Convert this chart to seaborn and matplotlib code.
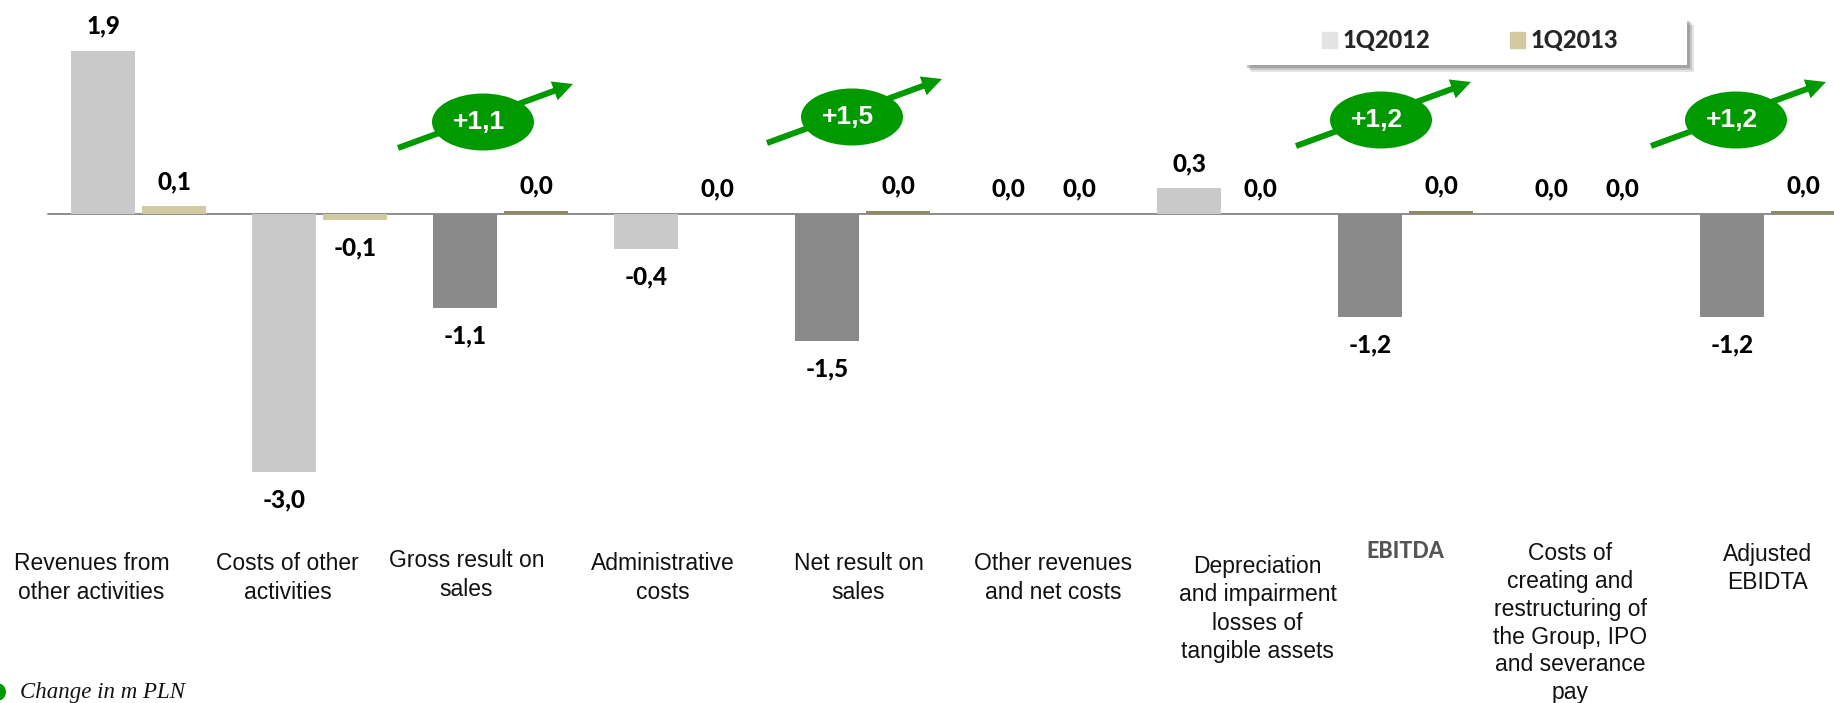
import matplotlib
matplotlib.use("Agg")
import matplotlib.pyplot as plt
from matplotlib.patches import Ellipse, FancyArrow, Rectangle, Patch
from matplotlib.transforms import Affine2D
import pandas as pd
import seaborn as sns

categories = [
    "Revenues from\nother activities", "Costs of other\nactivities", "Gross result on\nsales",
    "Administrative\ncosts", "Net result on\nsales", "Other revenues\nand net costs",
    "Depreciation\nand impairment\nlosses of\ntangible assets", "EBITDA",
    "Costs of\ncreating and\nrestructuring of\nthe Group, IPO\nand severance\npay", "Adjusted\nEBIDTA",
]
values_2012 = [1.9, -3.0, -1.09, -0.41, -1.48, 0.0, 0.3, -1.2, 0.0, -1.2]
values_2013 = [0.09, -0.07, 0.04, 0.0, 0.04, 0.0, 0.0, 0.04, 0.0, 0.04]
periods = ["1Q2012", "1Q2013"]
result_groups = [2, 4, 7, 9]
changes = ["+1,1", "+1,5", "+1,2", "+1,2"]

W, H = 1834, 703
GREEN = "#009900"
sns.set_theme(style="white")
plt.rcParams["font.family"] = ["Liberation Sans", "DejaVu Sans"]

df = pd.DataFrame({
    "category": categories * 2,
    "value": values_2012 + values_2013,
    "period": [periods[0]] * 10 + [periods[1]] * 10,
})

fig = plt.figure(figsize=(W / 100, H / 100), dpi=100, facecolor="white")
bottom_px = 530
ax = fig.add_axes([0, 1 - bottom_px / H, 1, bottom_px / H])
sns.barplot(data=df, x="category", y="value", hue="period", hue_order=periods,
            palette=["#c9c9c9", "#d1caa0"], width=0.784, gap=0.09, legend=False, ax=ax,
            errorbar=None, saturation=1, zorder=4, linewidth=0, edgecolor="none")
for i in result_groups:
    ax.containers[0][i].set_facecolor("#8a8a8a")
    ax.containers[1][i].set_facecolor("#8f8964")

px_per_unit = 86.0
ax.set_xlim((0 - 138.5) / 181, (W - 138.5) / 181)
ax.set_ylim((214 - bottom_px) / px_per_unit, 214 / px_per_unit)
ax.axhline(0, xmin=48 / W, color="#8c8c8c", lw=1.4, zorder=1)
for c, vals in zip(ax.containers, (values_2012, values_2013)):
    texts = ax.bar_label(c, labels=[f"{v:.1f}".replace(".", ",") for v in vals], padding=9.5,
                         family="Lato", fontweight=900, fontsize=17.5, color="black")
    for t, v in zip(texts, vals):
        if v < 0:
            t.xyann = (t.xyann[0], t.xyann[1] - 2.2)

ax.set_xlabel("")
ax.set_ylabel("")
ax.set_yticks([])
sns.despine(ax=ax, left=True, bottom=True)
ax.tick_params(axis="x", length=0, labelsize=16.5, labelcolor="#111111")
pads = [16, 16, 14, 16, 16, 16, 18, 8, 9, 9]
shifts_px = [-47, -32, -34, -19, -4, 10, 33, 0, -16, 0]
for tick, pad in zip(ax.xaxis.get_major_ticks(), pads):
    tick.set_pad(pad)
for lab, dx in zip(ax.get_xticklabels(), shifts_px):
    lab.set_linespacing(1.26 if lab.get_text().endswith("pay") else 1.3)
    lab.set_transform(lab.get_transform() + Affine2D().translate(dx, 0))
    if lab.get_text() == "EBITDA":
        lab.set_family("Lato")
        lab.set_fontweight(900)
        lab.set_fontsize(15.5)
        lab.set_color("#555555")

ov = fig.add_axes([0, 0, 1, 1], zorder=5)
ov.set_xlim(0, W)
ov.set_ylim(H, 0)
ov.axis("off")
ov.patch.set_alpha(0)

starts = [(398, 148), (767, 143), (1296, 146), (1651, 146)]
for (x0, y0), txt in zip(starts, changes):
    ov.add_patch(FancyArrow(x0, y0, 175, -64, width=6, head_width=20, head_length=20,
                            length_includes_head=True, color=GREEN, lw=0))
    ov.add_patch(Ellipse((x0 + 85, y0 - 26), 102, 57, color=GREEN, lw=0))
    ov.text(x0 + 81, y0 - 26, txt, color="white", ha="center", va="center",
            family="Liberation Sans", fontweight="bold", fontsize=19)

# legend panel
for off, a in ((7, 0.15), (5, 0.22), (3, 0.3)):
    ov.add_patch(Rectangle((1244 + off, 18 + off), 443, 47, color="#555555", alpha=a, lw=0))
ov.add_patch(Rectangle((1244, 18), 443, 47, color="white", lw=0))
handles = [Patch(color="#e3e3e3", label=periods[0]), Patch(color="#d1caa0", label=periods[1])]
ov.legend(handles=handles, ncol=2, frameon=False, loc="center left",
          bbox_to_anchor=(1322 / W, 1 - 40.5 / H), bbox_transform=fig.transFigure,
          handlelength=0.65, handleheight=0.65, handletextpad=0.2, columnspacing=3.4,
          borderpad=0, borderaxespad=0, prop={"family": "Lato", "weight": 900, "size": 17})

ov.add_patch(Ellipse((-3, 692), 18, 18, color=GREEN, lw=0, clip_on=True))
ov.text(20, 692.5, "Change in m PLN", family="Liberation Serif", style="italic",
        fontsize=16.5, va="center", ha="left", color="#111111")

fig.savefig("out.png", dpi=100)
